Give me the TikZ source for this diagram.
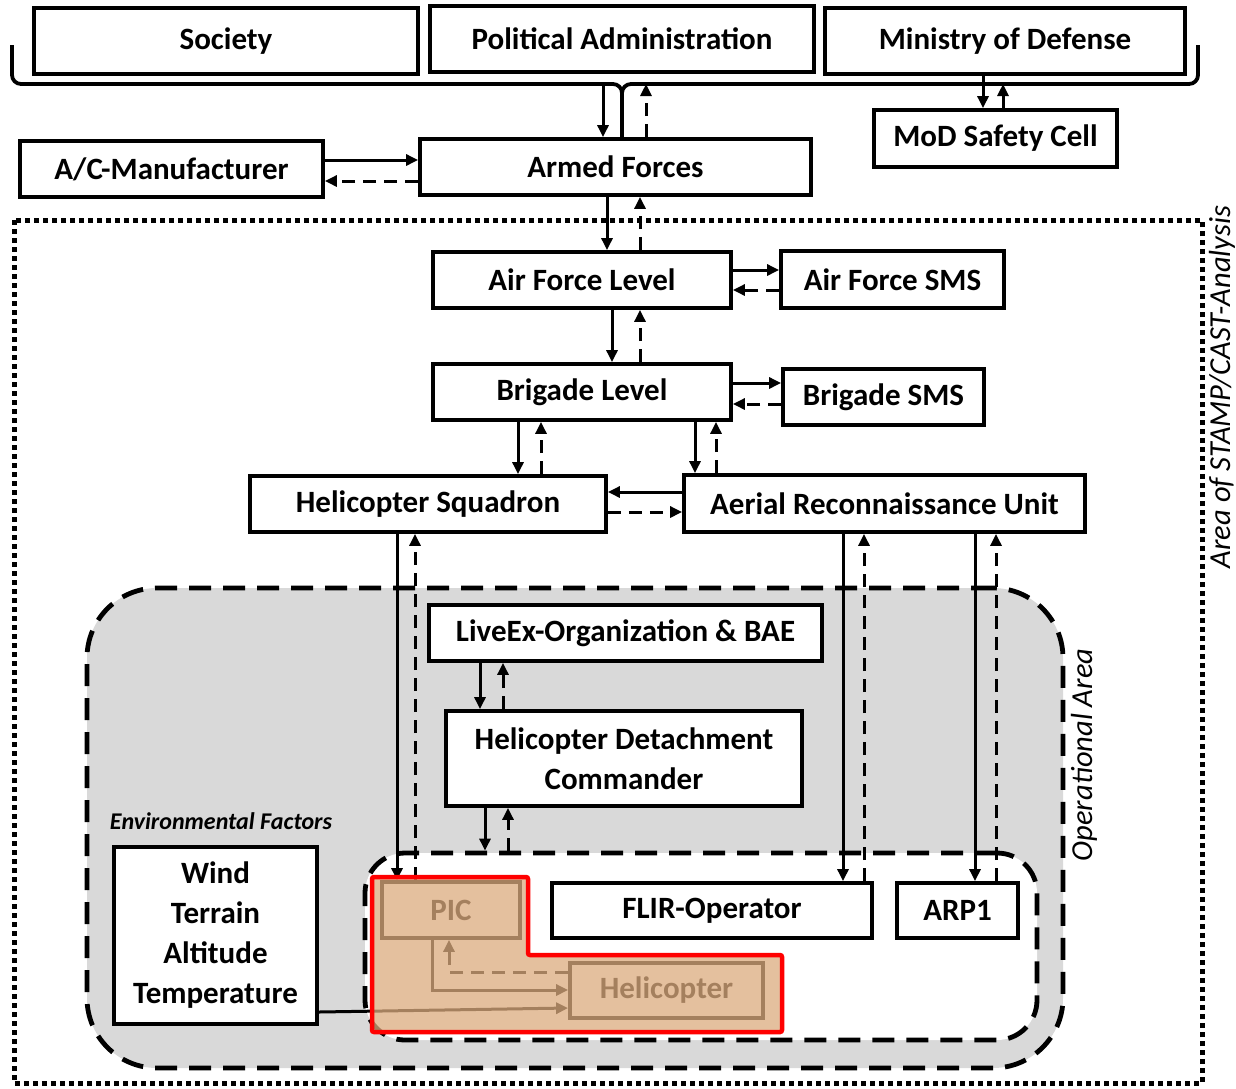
\documentclass[tikz,border=0pt]{standalone}
\usepackage{fontspec}
\setmainfont{Carlito}
\usetikzlibrary{arrows.meta,calc}
\definecolor{tanov}{RGB}{220,171,126}
\begin{document}
\begin{tikzpicture}[x=1pt,y=-1pt,
  box/.style={draw=black, line width=3.8pt, fill=white, inner sep=0pt, align=center, font=\fontsize{31}{40}\selectfont\bfseries},
  conn/.style={line width=3pt, -{Triangle[length=12pt,width=11pt]}},
  back/.style={conn, dash pattern=on 13pt off 8pt},
  region/.style={line width=4.8pt, dash pattern=on 22pt off 12pt},
  sidelabel/.style={font=\fontsize{30.5}{34}\selectfont\itshape, inner sep=0pt}
]
\useasboundingbox (0,0) rectangle (1236,1088);

% STAMP/CAST analysis area
\draw[line width=5pt, dash pattern=on 5pt off 4pt] (14,220) rectangle (1202,1083);
\node[sidelabel, rotate=90] (stamp) at (1222,387) {Area of STAMP/CAST-Analysis};

% operational area
\node[region, draw, fill=black!15, rounded corners=70pt, minimum width=976pt, minimum height=480pt] (opout) at (575,828) {};
\node[region, draw, fill=white, rounded corners=40pt, minimum width=672pt, minimum height=187pt] (opin) at (701,946.5) {};
\node[sidelabel, rotate=90] (oplab) at (1084,755) {Operational Area};
\node[font=\fontsize{24}{26}\selectfont\bfseries\itshape, inner sep=0pt] (envlab) at (221,821) {Environmental Factors};

% boxes
\node[box, minimum width=384pt, minimum height=66pt] (soc) at (226,41) {Society};
\node[box, minimum width=384pt, minimum height=66pt] (pol) at (622,39) {Political Administration};
\node[box, minimum width=360pt, minimum height=66pt] (mod) at (1005,41) {Ministry of Defense};
\node[box, minimum width=391pt, minimum height=56pt] (af) at (615.5,167) {Armed Forces};
\node[box, minimum width=303pt, minimum height=56pt] (ac) at (171.5,169) {A/C-Manufacturer};
\node[box, minimum width=243pt, minimum height=57pt] (sc) at (995.5,138.5) {MoD Safety Cell};
\node[box, minimum width=298pt, minimum height=56pt] (afl) at (582,280) {Air Force Level};
\node[box, minimum width=223pt, minimum height=57pt] (afs) at (892.5,279.5) {Air Force SMS};
\node[box, minimum width=298pt, minimum height=56pt] (bl) at (582,392) {Brigade Level};
\node[box, minimum width=201pt, minimum height=56pt] (bs) at (883.5,397) {Brigade SMS};
\node[box, minimum width=356pt, minimum height=56pt] (hs) at (428,504) {Helicopter Squadron};
\node[box, minimum width=401pt, minimum height=57pt] (aru) at (884.5,503.5) {Aerial Reconnaissance Unit};
\node[box, minimum width=393pt, minimum height=56pt] (lx) at (625.5,633) {LiveEx-Organization \& BAE};
\node[box, minimum width=356pt, minimum height=95pt] (hdc) at (624,758.5) {Helicopter Detachment\\Commander};
\node[box, minimum width=320pt, minimum height=55pt] (flir) at (712,910.5) {FLIR-Operator};
\node[box, minimum width=121pt, minimum height=55pt] (arp) at (957.5,910.5) {ARP1};
\node[box, minimum width=203pt, minimum height=177pt] (env) at (215.5,935.5) {Wind\\Terrain\\Altitude\\Temperature};
\node[box, minimum width=138pt, minimum height=56pt] (pic) at (451,910) {PIC};
\node[box, minimum width=193pt, minimum height=55pt] (heli) at (666.5,990.5) {Helicopter};

% bracket joining the top level
\coordinate (bar) at (622,84);
\draw[line width=3.8pt, rounded corners=9pt] (12,45) |- (bar) -- (bar |- af.north);
\draw[line width=3.8pt, rounded corners=9pt] (1198,45) |- (bar) -- (bar |- af.north);

% connectors
\draw[conn] (bar -| 603,0) -- (af.north -| 603,0);
\draw[back] (af.north -| 646,0) -- (bar -| 646,0);
\draw[conn] (mod.south -| 983,0) -- (sc.north -| 983,0);
\draw[back] (sc.north -| 1003,0) -- (bar -| 1003,0);
\draw[conn] (ac.east |- 0,160) -- (af.west |- 0,160);
\draw[back] (af.west |- 0,181) -- (ac.east |- 0,181);
\draw[conn] (af.south -| 607,0) -- (afl.north -| 607,0);
\draw[back] (afl.north -| 640,0) -- (af.south -| 640,0);
\draw[conn] (afl.east |- 0,270) -- (afs.west |- 0,270);
\draw[back] (afs.west |- 0,290) -- (afl.east |- 0,290);
\draw[conn] (afl.south -| 612,0) -- (bl.north -| 612,0);
\draw[back] (bl.north -| 640,0) -- (afl.south -| 640,0);
\draw[conn] (bl.east |- 0,383) -- (bs.west |- 0,383);
\draw[back] (bs.west |- 0,404) -- (bl.east |- 0,404);
\draw[conn] (bl.south -| 518,0) -- (hs.north -| 518,0);
\draw[back] (hs.north -| 541,0) -- (bl.south -| 541,0);
\draw[conn] (bl.south -| 695,0) -- (aru.north -| 695,0);
\draw[back] (aru.north -| 716,0) -- (bl.south -| 716,0);
\draw[conn] (aru.west |- 0,492) -- (hs.east |- 0,492);
\draw[back] (hs.east |- 0,512) -- (aru.west |- 0,512);
\draw[conn] (lx.south -| 480,0) -- (hdc.north -| 480,0);
\draw[back] (hdc.north -| 503,0) -- (lx.south -| 503,0);
\draw[conn] (hdc.south -| 485,0) -- (opin.north -| 485,0);
\draw[back] (opin.north -| 508,0) -- (hdc.south -| 508,0);
\draw[conn] (hs.south -| 397,0) -- (pic.north -| 397,0);
\draw[back] (pic.north -| 415,0) -- (hs.south -| 415,0);
\draw[conn] (aru.south -| 843,0) -- (flir.north -| 843,0);
\draw[back] (flir.north -| 864,0) -- (aru.south -| 864,0);
\draw[conn] (aru.south -| 975,0) -- (arp.north -| 975,0);
\draw[back] (arp.north -| 996,0) -- (aru.south -| 996,0);
\draw[conn] (pic.south -| 432,0) |- (heli.west |- 0,990);
\draw[back] (heli.west |- 0,972) -| (pic.south -| 449,0);
\draw[conn] (env.east |- 0,1012) -- (heli.west |- 0,1008);

% highlighted controlled process
\draw[draw=red, line width=4.5pt, fill=tanov, fill opacity=0.75, rounded corners=2pt]
  (372,877) -- (528,877) -- (528,955) -- (782,955) -- (782,1032) -- (372,1032) -- cycle;
\end{tikzpicture}
\end{document}
